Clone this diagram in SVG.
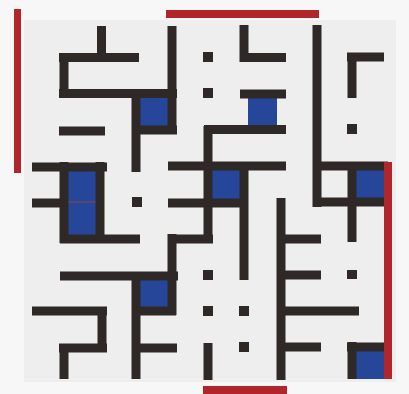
<svg xmlns="http://www.w3.org/2000/svg" width="409" height="394" viewBox="0 0 409 394">
<style>
.w{stroke:#2e2927;stroke-width:9;fill:none;stroke-linecap:butt}
.b{fill:#26469a}
.r{fill:#b0262a}
.d{fill:#2e2927}
</style>
<rect x="0" y="0" width="409" height="394" fill="#f7f7f7"/>
<rect x="24" y="20" width="372" height="362" fill="#eeeeee"/>
<g id="cells">
<rect class="b" x="136" y="94" width="36" height="36"/>
<rect class="b" x="248" y="97" width="29" height="30"/>
<rect class="b" x="208" y="166" width="36" height="37"/>
<rect class="b" x="64" y="166" width="36" height="73"/>
<rect class="b" x="136" y="276" width="36" height="35"/>
<rect class="b" x="352" y="166" width="36" height="36"/>
<rect class="b" x="352" y="347" width="36" height="32"/>
<line x1="68" y1="202" x2="96" y2="202" stroke="#6a4a5a" stroke-width="1.5"/>
</g>
<g id="walls">
<line class="w" x1="101.5" y1="26" x2="101.5" y2="62"/>
<line class="w" x1="59" y1="57.5" x2="139" y2="57.5"/>
<line class="w" x1="64" y1="53" x2="64" y2="98"/>
<line class="w" x1="59" y1="93.5" x2="177" y2="93.5"/>
<line class="w" x1="172" y1="26" x2="172" y2="134"/>
<line class="w" x1="59" y1="131" x2="105" y2="131"/>
<line class="w" x1="136" y1="89" x2="136" y2="172"/>
<line class="w" x1="132" y1="130" x2="177" y2="130"/>
<line class="w" x1="244" y1="25" x2="244" y2="62"/>
<line class="w" x1="240" y1="57.5" x2="286" y2="57.5"/>
<line class="w" x1="240" y1="94" x2="286" y2="94"/>
<line class="w" x1="204" y1="129.5" x2="286" y2="129.5"/>
<line class="w" x1="208" y1="126" x2="208" y2="243"/>
<line class="w" x1="168" y1="166" x2="286" y2="166"/>
<line class="w" x1="244" y1="162" x2="244" y2="280"/>
<line class="w" x1="168" y1="203" x2="248" y2="203"/>
<line class="w" x1="168" y1="239" x2="213" y2="239"/>
<line class="w" x1="172" y1="234" x2="172" y2="315"/>
<line class="w" x1="60" y1="276" x2="178" y2="276"/>
<line class="w" x1="136" y1="272" x2="136" y2="379"/>
<line class="w" x1="132" y1="311" x2="176" y2="311"/>
<line class="w" x1="136" y1="348" x2="177" y2="348"/>
<line class="w" x1="208" y1="343" x2="208" y2="380"/>
<line class="w" x1="281" y1="198" x2="281" y2="380"/>
<line class="w" x1="281" y1="239" x2="321" y2="239"/>
<line class="w" x1="281" y1="275" x2="321" y2="275"/>
<line class="w" x1="281" y1="311" x2="359" y2="311"/>
<line class="w" x1="281" y1="347" x2="321" y2="347"/>
<line class="w" x1="317" y1="25" x2="317" y2="207"/>
<line class="w" x1="313" y1="166" x2="388" y2="166"/>
<line class="w" x1="313" y1="202" x2="388" y2="202"/>
<line class="w" x1="352" y1="162" x2="352" y2="242"/>
<line class="w" x1="347" y1="57" x2="384" y2="57"/>
<line class="w" x1="352" y1="53" x2="352" y2="98"/>
<line class="w" x1="32" y1="167" x2="107" y2="167"/>
<line class="w" x1="32" y1="203" x2="64" y2="203"/>
<line class="w" x1="64" y1="162" x2="64" y2="243"/>
<line class="w" x1="100" y1="162" x2="100" y2="243"/>
<line class="w" x1="60" y1="239" x2="140" y2="239"/>
<line class="w" x1="32" y1="311" x2="107" y2="311"/>
<line class="w" x1="102" y1="307" x2="102" y2="352"/>
<line class="w" x1="59" y1="348" x2="107" y2="348"/>
<line class="w" x1="64" y1="344" x2="64" y2="379"/>
<line class="w" x1="347" y1="347" x2="386" y2="347"/>
<line class="w" x1="352" y1="342" x2="352" y2="379"/>
</g>
<g id="dots">
<rect class="d" x="203" y="52" width="10" height="10"/>
<rect class="d" x="203" y="88" width="10" height="10"/>
<rect class="d" x="347" y="124" width="10" height="10"/>
<rect class="d" x="132" y="197" width="10" height="10"/>
<rect class="d" x="203" y="270" width="10" height="10"/>
<rect class="d" x="203" y="306" width="10" height="10"/>
<rect class="d" x="239" y="306" width="10" height="10"/>
<rect class="d" x="239" y="342" width="10" height="10"/>
<rect class="d" x="347" y="270" width="10" height="9"/>
</g>
<g id="frame">
<rect class="r" x="14" y="9" width="7" height="164"/>
<rect class="r" x="166" y="10" width="153" height="8"/>
<rect class="r" x="384" y="162" width="8" height="217"/>
<rect class="r" x="203" y="386" width="84" height="8"/>
</g>
</svg>
